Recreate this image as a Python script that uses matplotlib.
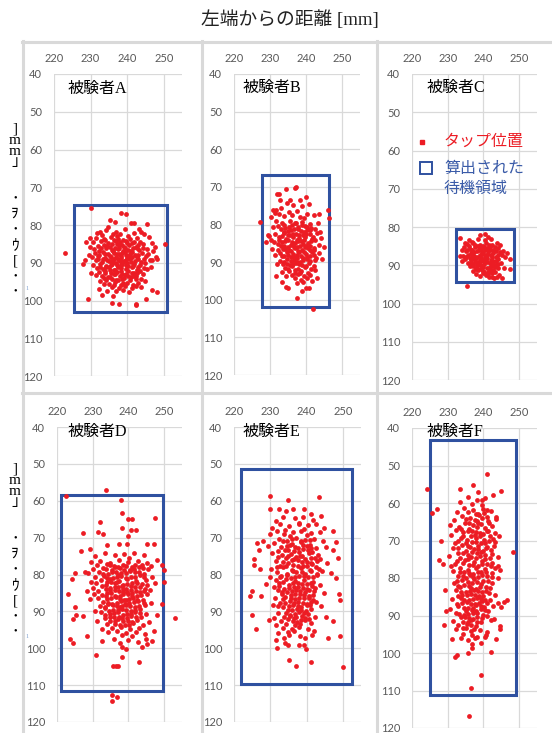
import matplotlib
matplotlib.use("Agg")
import matplotlib.pyplot as plt
from matplotlib.patches import Rectangle
from matplotlib.lines import Line2D

W, H = 552, 733

# ---------------------------------------------------------------- data
x_ticks = [220, 230, 240, 250]
y_ticks = [40, 50, 60, 70, 80, 90, 100, 110, 120]
x_range = (220, 255)
y_range = (40, 120)

subjects = ["被験者A", "被験者B", "被験者C", "被験者D", "被験者E", "被験者F"]

# tap positions (x = distance from left edge, y = distance from top edge) [mm]
taps_A = [
    (222.9, 87.5), (230.0, 75.4), (239.6, 77.1), (238.4, 76.9), (250.3, 85.0), (248.2, 97.8),
    (229.4, 99.7), (235.8, 100.7), (237.8, 101.0), (242.3, 101.2), (242.4, 100.8), (245.1, 99.6),
    (245.4, 79.8), (233.1, 98.5), (236.2, 98.8), (228.4, 89.3), (228.0, 90.2), (228.7, 84.4),
    (229.8, 83.5), (231.8, 82.0), (232.5, 81.9), (247.5, 85.9), (247.8, 88.4), (248.2, 89.0),
    (246.4, 91.0), (246.9, 89.3), (243.3, 81.1), (243.8, 81.8), (241.1, 79.6), (242.0, 79.6),
    (235.3, 78.7), (236.7, 79.3), (234.9, 80.4),
    (234.2, 81.3), (236.9, 81.8), (239.5, 81.1), (241.8, 82.0), (238.1, 82.4), (233.0, 82.6), (244.6, 82.3),
    (231.5, 83.4), (235.6, 83.1), (237.4, 83.6), (240.3, 83.0), (242.7, 83.5), (238.9, 83.9), (245.9, 83.2), (233.8, 83.8),
    (230.6, 84.6), (232.9, 84.2), (234.7, 84.8), (236.3, 84.1), (238.0, 84.5), (239.7, 84.3), (241.2, 84.9), (243.5, 84.4),
    (246.8, 84.7), (237.2, 85.0),
    (231.9, 85.5), (233.6, 85.2), (235.4, 85.8), (237.9, 85.4), (239.1, 85.9), (240.6, 85.3), (242.3, 85.7), (244.4, 85.1),
    (229.8, 85.9), (236.6, 86.0),
    (230.9, 86.4), (232.4, 86.8), (234.1, 86.2), (235.9, 86.6), (237.5, 86.3), (238.8, 86.9), (240.2, 86.5), (241.7, 86.1),
    (243.2, 86.7), (245.3, 86.3), (247.1, 86.8),
    (231.2, 87.5), (233.3, 87.1), (234.8, 87.7), (236.4, 87.3), (237.9, 87.8), (239.4, 87.2), (240.8, 87.6), (242.1, 87.9),
    (244.0, 87.4), (229.5, 87.9), (238.6, 87.5),
    (232.0, 88.3), (233.9, 88.8), (235.3, 88.1), (236.9, 88.6), (238.3, 88.2), (239.9, 88.7), (241.4, 88.4), (242.9, 88.9),
    (245.1, 88.2), (230.4, 88.6), (237.4, 88.9), (240.6, 88.1),
    (231.4, 89.4), (233.0, 89.7), (234.6, 89.2), (236.1, 89.8), (237.7, 89.3), (239.2, 89.6), (240.7, 89.1), (242.2, 89.5),
    (243.8, 89.9), (246.2, 89.4), (235.5, 89.5), (238.5, 89.9),
    (230.7, 90.5), (232.6, 90.2), (234.2, 90.8), (235.8, 90.3), (237.3, 90.7), (238.7, 90.2), (240.3, 90.9), (241.8, 90.4),
    (243.4, 90.6), (244.9, 90.1), (239.6, 90.5),
    (231.8, 91.3), (233.5, 91.6), (235.1, 91.1), (236.7, 91.8), (238.2, 91.4), (239.8, 91.7), (241.3, 91.2), (242.8, 91.9),
    (244.5, 91.5), (237.5, 91.0),
    (232.3, 92.5), (234.0, 92.2), (235.7, 92.8), (237.1, 92.4), (238.6, 92.9), (240.1, 92.3), (241.9, 92.7), (243.6, 92.1),
    (230.2, 92.6), (236.4, 92.0),
    (233.2, 93.4), (234.9, 93.8), (236.5, 93.1), (238.0, 93.6), (239.5, 93.3), (241.0, 93.9), (242.5, 93.5), (244.2, 93.0),
    (231.6, 93.2),
    (234.1, 94.5), (235.9, 94.2), (237.6, 94.7), (239.1, 94.1), (240.7, 94.6), (242.4, 94.3), (245.0, 94.8), (232.7, 94.9),
    (235.0, 95.6), (236.8, 95.2), (238.4, 95.8), (240.0, 95.4), (241.6, 95.9), (243.1, 95.3), (233.7, 95.7),
    (235.8, 96.5), (237.7, 96.8), (239.3, 96.2), (241.2, 96.6), (243.9, 96.4), (232.3, 96.9),
    (234.6, 97.4), (237.0, 97.6), (238.9, 97.2), (240.5, 97.8), (246.7, 97.1),
    (234.0, 84.0), (235.9, 85.1), (237.0, 84.3), (238.7, 85.2), (240.0, 84.7), (241.9, 84.6), (243.0, 85.4),
    (232.9, 86.0), (234.6, 85.6), (236.1, 86.9), (237.8, 86.1), (239.5, 86.2), (241.0, 86.9), (242.6, 86.2), (244.3, 86.0),
    (232.3, 87.9), (234.0, 87.6), (235.6, 88.4), (237.1, 87.6), (238.2, 88.7), (239.8, 87.9), (241.3, 87.1), (243.0, 87.9),
    (245.6, 87.7),
    (231.9, 88.9), (233.4, 89.0), (235.0, 89.6), (236.5, 88.9), (238.0, 89.5), (239.6, 89.2), (241.1, 89.8), (242.6, 88.4),
    (244.6, 89.0),
    (232.5, 91.0), (234.2, 91.1), (235.6, 90.6), (237.0, 90.0), (238.4, 90.7), (240.0, 90.0), (241.6, 90.9), (243.0, 91.1),
    (245.4, 91.7),
    (233.9, 92.7), (235.4, 92.0), (236.8, 93.0), (238.3, 92.3), (239.7, 92.9), (241.2, 92.6), (242.8, 92.6),
    (233.7, 94.1), (235.4, 93.7), (236.9, 94.5), (238.5, 94.4), (240.2, 93.5), (241.8, 93.6), (243.7, 94.2),
    (236.3, 95.9), (239.0, 95.3), (242.3, 96.1), (237.2, 83.0), (240.9, 83.8), (236.2, 82.5),
]

taps_B = [
    (227.2, 79.4), (246.1, 76.1), (246.3, 78.4), (241.9, 102.5), (237.6, 99.5), (238.8, 97.8),
    (240.0, 96.9), (240.7, 96.9), (234.5, 96.5), (235.1, 96.8), (233.2, 95.4), (231.7, 93.7),
    (237.0, 70.4), (237.2, 70.0), (234.5, 70.6), (232.0, 71.9), (232.4, 71.8), (240.0, 72.6),
    (243.5, 77.2), (228.9, 84.7), (229.5, 82.8), (230.2, 84.1), (244.9, 86.1), (244.4, 89.2),
    (243.0, 94.3), (242.5, 89.4), (230.9, 76.1), (231.4, 77.0), (232.8, 73.5), (238.4, 73.5),
    (235.6, 73.5),
    (234.8, 74.3), (236.4, 74.9), (238.9, 75.2), (233.1, 75.6), (240.7, 74.6), (231.6, 76.2), (237.6, 76.5), (235.2, 76.8),
    (232.5, 77.3), (234.0, 77.8), (236.1, 77.5), (238.3, 77.9), (240.2, 77.2), (242.1, 77.6), (230.4, 78.1), (239.5, 78.4),
    (231.7, 79.2), (233.4, 79.6), (235.5, 79.1), (237.3, 79.7), (239.0, 79.3), (241.0, 79.8), (243.2, 79.5),
    (232.2, 80.4), (234.3, 80.8), (236.0, 80.2), (237.8, 80.6), (239.6, 80.3), (241.5, 80.9), (230.9, 80.7),
    (233.0, 81.3), (234.9, 81.7), (236.7, 81.2), (238.5, 81.8), (240.3, 81.4), (242.4, 81.1), (244.0, 81.9),
    (231.4, 82.5), (233.8, 82.2), (235.6, 82.8), (237.2, 82.4), (239.1, 82.9), (241.0, 82.6), (243.1, 82.3),
    (232.6, 83.4), (234.5, 83.9), (236.3, 83.2), (238.0, 83.7), (239.8, 83.3), (241.7, 83.8), (244.3, 83.5), (229.6, 83.1),
    (233.3, 84.6), (235.1, 84.2), (236.9, 84.8), (238.7, 84.4), (240.5, 84.9), (242.6, 84.1), (231.0, 84.7), (237.6, 84.0),
    (232.1, 85.3), (234.0, 85.8), (235.8, 85.4), (237.4, 85.9), (239.3, 85.2), (241.2, 85.7), (243.7, 85.5), (236.5, 85.1),
    (233.5, 86.4), (235.3, 86.9), (237.0, 86.3), (238.8, 86.7), (240.6, 86.2), (242.2, 86.8), (230.6, 86.6), (239.7, 86.0),
    (232.8, 87.5), (234.6, 87.2), (236.4, 87.8), (238.1, 87.4), (239.9, 87.9), (241.6, 87.3), (243.5, 87.6),
    (233.9, 88.3), (235.7, 88.7), (237.5, 88.2), (239.2, 88.8), (241.0, 88.4), (242.9, 88.9), (231.5, 88.1),
    (232.9, 89.6), (234.8, 89.1), (236.6, 89.5), (238.4, 89.9), (240.2, 89.3), (237.5, 89.0),
    (233.6, 90.4), (235.5, 90.8), (237.2, 90.2), (239.0, 90.7), (240.8, 90.3), (242.3, 90.9), (231.9, 90.6),
    (234.3, 91.5), (236.1, 91.1), (237.9, 91.8), (239.6, 91.4), (241.4, 91.9), (235.0, 91.9),
    (235.2, 92.3), (237.0, 92.8), (238.7, 92.4), (240.5, 92.9), (233.4, 92.6), (242.6, 92.2),
    (236.0, 93.5), (237.8, 93.2), (239.5, 93.7), (241.1, 93.3), (234.4, 93.8),
    (236.9, 94.3), (238.6, 94.7), (240.2, 94.1), (239.1, 95.2), (237.4, 95.6), (241.6, 94.9),
    (233.9, 80.0), (235.4, 80.6), (237.0, 79.6), (238.8, 80.0), (240.4, 80.6), (234.0, 81.9), (235.9, 81.5), (237.7, 81.1),
    (239.4, 81.9), (241.2, 81.5),
    (233.2, 83.0), (234.9, 82.9), (236.4, 82.6), (238.1, 82.8), (240.0, 82.5), (242.0, 83.2),
    (232.4, 84.1), (234.2, 84.3), (236.0, 84.7), (237.8, 84.3), (239.5, 84.0), (241.3, 84.5),
    (233.1, 85.6), (234.9, 85.9), (236.6, 86.0), (238.3, 85.6), (240.0, 85.6), (242.1, 86.2),
    (232.3, 86.9), (234.2, 86.6), (235.9, 87.0), (237.7, 87.1), (239.4, 87.3), (241.0, 86.7),
    (233.4, 88.5), (235.0, 88.0), (236.8, 88.6), (238.5, 88.3), (240.3, 88.7), (242.1, 88.0),
    (233.8, 89.9), (235.7, 89.6), (237.4, 89.9), (239.2, 89.5), (241.1, 89.7),
    (234.6, 90.5), (236.4, 90.4), (238.1, 90.6), (239.9, 91.0), (236.9, 92.0), (238.4, 93.0),
]

taps_C = [
    (235.3, 95.3), (247.3, 91.0), (247.5, 88.3), (243.7, 93.0), (245.1, 93.3), (233.5, 82.9),
    (233.3, 87.7), (239.1, 82.0), (240.5, 81.7), (244.6, 84.6), (245.5, 86.3), (234.9, 84.2),
    (233.9, 86.1), (246.1, 87.9), (246.5, 86.9), (234.0, 88.9), (245.7, 90.7), (236.0, 83.4),
    (238.6, 83.2), (240.4, 83.5), (242.0, 83.1), (236.9, 83.8), (241.3, 82.6),
    (235.4, 84.4), (237.2, 84.1), (238.9, 84.6), (240.7, 84.2), (242.3, 84.7), (243.8, 84.3), (239.8, 84.9),
    (234.6, 85.3), (236.1, 85.7), (237.7, 85.2), (239.3, 85.8), (240.9, 85.4), (242.6, 85.9), (244.2, 85.5),
    (238.4, 85.0), (241.7, 85.1),
    (235.0, 86.4), (236.6, 86.8), (238.1, 86.2), (239.7, 86.6), (241.2, 86.3), (242.8, 86.9), (244.6, 86.5),
    (240.4, 86.0), (237.3, 86.5),
    (234.3, 87.5), (235.8, 87.2), (237.4, 87.7), (238.9, 87.3), (240.5, 87.8), (242.0, 87.4), (243.6, 87.9),
    (245.3, 87.3), (239.7, 87.0), (241.2, 87.1),
    (234.9, 88.3), (236.5, 88.7), (238.0, 88.2), (239.5, 88.6), (241.1, 88.1), (242.7, 88.8), (244.1, 88.4),
    (237.2, 88.0), (240.3, 88.9),
    (235.6, 89.4), (237.1, 89.8), (238.7, 89.2), (240.2, 89.7), (241.8, 89.3), (243.4, 89.9), (245.0, 89.5),
    (239.4, 89.0),
    (236.3, 90.3), (237.9, 90.7), (239.5, 90.2), (241.0, 90.6), (242.5, 90.1), (244.0, 90.8), (238.6, 90.9),
    (237.0, 91.4), (238.6, 91.2), (240.2, 91.7), (241.9, 91.3), (243.3, 91.8), (239.4, 91.0),
    (238.0, 92.3), (240.7, 92.5), (242.4, 92.1), (244.4, 92.6), (239.1, 92.8),
    (241.6, 93.1), (243.0, 93.4), (242.3, 93.0),
    (236.0, 85.0), (237.5, 84.6), (239.0, 85.5), (240.2, 85.1), (241.6, 84.6), (243.1, 85.2),
    (235.5, 86.0), (236.9, 86.1), (238.8, 86.0), (240.0, 86.9), (241.9, 86.0), (243.5, 86.4),
    (235.2, 87.9), (236.7, 87.4), (238.3, 87.8), (239.2, 88.2), (240.8, 87.2), (242.4, 87.9), (244.2, 87.2),
    (236.1, 88.2), (237.6, 88.9), (238.9, 88.7), (240.6, 88.4), (242.1, 88.7), (243.5, 88.8),
    (236.4, 89.3), (237.9, 89.2), (239.0, 89.9), (240.9, 89.2), (242.6, 89.5), (244.1, 89.6),
    (237.2, 90.2), (238.2, 90.0), (240.0, 90.5), (241.7, 90.4), (243.2, 90.5),
    (238.0, 91.0), (239.8, 91.4), (241.2, 91.8), (242.7, 91.2), (240.0, 92.0), (241.4, 92.4),
]

taps_D = [
    (233.7, 57.2), (238.0, 59.7), (238.3, 63.3), (239.9, 65.0), (241.1, 65.0), (247.4, 64.6),
    (232.0, 65.8), (238.3, 67.3), (242.0, 67.8), (240.8, 68.0), (239.9, 69.6), (227.3, 68.7),
    (231.4, 68.5), (232.8, 69.1), (226.8, 73.6), (229.3, 73.0), (234.0, 72.1), (237.3, 71.6),
    (239.7, 71.6), (245.3, 71.8), (247.2, 71.8), (224.2, 81.1), (225.1, 79.6), (227.7, 79.3),
    (223.2, 85.4), (225.1, 88.8), (224.4, 92.0), (225.4, 90.9), (227.3, 91.3), (223.7, 97.6),
    (224.4, 98.6), (228.4, 96.8), (230.8, 101.9), (232.5, 98.1), (235.6, 104.7), (236.4, 104.8),
    (237.0, 104.9), (238.3, 102.4), (242.9, 103.7), (235.4, 112.8), (236.8, 113.2), (235.5, 114.3),
    (253.0, 91.7), (250.0, 82.0), (249.5, 77.5), (250.0, 78.9), (249.3, 87.9), (248.1, 91.1),
    (247.2, 95.2), (246.7, 97.9), (245.3, 98.8), (248.1, 76.2), (244.8, 97.4), (222.6, 58.8),
    (239.2, 100.1), (238.3, 99.7), (243.7, 99.7),
    (233.5, 74.2), (236.2, 74.8), (238.8, 74.5), (241.5, 74.1), (244.3, 74.7), (230.7, 75.1), (240.1, 75.6),
    (232.1, 76.3), (234.7, 76.8), (237.4, 76.2), (239.9, 76.6), (242.6, 76.4), (245.2, 76.9), (229.4, 76.7),
    (231.3, 77.5), (233.9, 77.2), (236.0, 77.8), (238.5, 77.4), (241.0, 77.9), (243.7, 77.3), (246.4, 77.7),
    (230.2, 78.6), (232.8, 78.2), (235.3, 78.8), (237.7, 78.3), (240.4, 78.7), (242.9, 78.1), (245.6, 78.5),
    (231.7, 79.4), (234.2, 79.8), (236.6, 79.2), (239.2, 79.6), (241.8, 79.3), (244.4, 79.9), (228.6, 79.5),
    (230.5, 80.7), (233.1, 80.3), (235.6, 80.9), (238.0, 80.4), (240.6, 80.8), (243.2, 80.2), (246.7, 80.6),
    (237.1, 80.1),
    (232.3, 81.5), (234.9, 81.1), (237.3, 81.7), (239.7, 81.2), (242.2, 81.8), (244.9, 81.4), (229.5, 81.9),
    (231.0, 82.3), (233.6, 82.8), (236.2, 82.4), (238.6, 82.9), (241.1, 82.2), (243.8, 82.6), (247.5, 82.4),
    (235.0, 82.1),
    (230.1, 83.6), (232.6, 83.2), (234.8, 83.7), (237.0, 83.3), (239.4, 83.8), (241.9, 83.4), (244.6, 83.9),
    (238.3, 83.0),
    (231.6, 84.4), (233.9, 84.9), (236.1, 84.2), (238.5, 84.7), (240.8, 84.3), (243.3, 84.8), (246.0, 84.1),
    (228.4, 84.6),
    (232.7, 85.6), (235.2, 85.1), (237.6, 85.8), (239.9, 85.3), (242.4, 85.7), (245.2, 85.4), (230.3, 85.2),
    (241.1, 85.0),
    (231.4, 86.3), (234.0, 86.7), (236.4, 86.2), (238.8, 86.8), (241.3, 86.4), (244.0, 86.9), (229.2, 86.6),
    (233.0, 87.4), (235.5, 87.9), (237.8, 87.3), (240.2, 87.7), (242.8, 87.2), (246.3, 87.6), (239.2, 87.0),
    (231.9, 88.5), (234.4, 88.1), (236.8, 88.6), (239.3, 88.2), (241.7, 88.8), (244.5, 88.3), (237.7, 88.9),
    (233.3, 89.2), (235.8, 89.7), (238.1, 89.3), (240.6, 89.8), (243.1, 89.4), (230.6, 89.9),
    (234.7, 90.6), (237.1, 90.1), (239.5, 90.7), (241.9, 90.3), (245.0, 90.8), (232.2, 90.2), (238.4, 90.9),
    (235.9, 91.4), (238.3, 91.8), (240.8, 91.2), (243.6, 91.6), (233.5, 91.9),
    (234.8, 92.5), (237.2, 92.2), (239.8, 92.7), (242.3, 92.3), (245.7, 92.8), (231.1, 92.6),
    (236.3, 93.4), (238.9, 93.8), (241.4, 93.1), (244.2, 93.6), (233.9, 93.3),
    (235.5, 94.6), (237.9, 94.2), (240.4, 94.8), (243.0, 94.4), (232.6, 94.9),
    (236.8, 95.3), (239.4, 95.9), (242.1, 95.5), (234.2, 95.7), (238.2, 96.5), (241.0, 96.8), (244.6, 96.2),
    (236.0, 97.4), (239.9, 97.7), (237.5, 98.6), (242.8, 98.2),
    (234.9, 77.4), (237.0, 77.9), (239.4, 77.7), (241.9, 77.3), (233.6, 78.6), (236.3, 78.0), (238.8, 78.7),
    (241.6, 78.5), (244.0, 78.3),
    (232.9, 79.8), (235.4, 79.4), (237.9, 79.5), (240.5, 79.1), (243.0, 79.4), (233.9, 80.9), (236.7, 80.6),
    (239.3, 81.0), (241.9, 80.6), (244.4, 80.8),
    (234.0, 82.1), (236.9, 81.9), (239.6, 82.5), (242.3, 82.3), (245.2, 82.9), (233.8, 83.9), (236.2, 83.3),
    (238.6, 83.9), (240.6, 83.1), (243.3, 83.4),
    (234.8, 84.3), (237.4, 84.6), (239.7, 84.8), (242.0, 84.5), (244.3, 84.6), (233.6, 85.8), (236.3, 85.9),
    (238.6, 85.4), (240.9, 85.8), (243.4, 85.6),
    (235.2, 86.4), (237.6, 86.6), (240.1, 86.6), (242.5, 86.8), (234.4, 87.6), (236.7, 87.6), (239.0, 87.9),
    (241.6, 87.5), (244.4, 87.7),
    (233.5, 88.8), (235.6, 88.4), (238.1, 88.5), (240.5, 88.6), (243.0, 88.6), (234.5, 89.9), (237.1, 89.5),
    (239.4, 89.5), (241.9, 89.6),
    (233.5, 90.9), (236.0, 90.5), (240.7, 90.6), (243.3, 90.4), (234.8, 91.6), (237.3, 91.4), (239.6, 91.9),
    (242.2, 91.5),
    (236.1, 92.6), (238.6, 92.6), (241.0, 92.8), (237.5, 93.7), (240.1, 93.6),
]

taps_E = [
    (230.0, 58.8), (234.9, 59.7), (243.4, 59.0), (230.0, 62.2), (232.4, 62.3), (234.2, 62.8),
    (236.2, 62.3), (239.2, 62.2), (241.3, 63.5), (244.0, 64.2), (244.7, 67.3), (247.2, 68.2),
    (248.1, 71.2), (247.4, 73.3), (248.6, 75.4), (226.3, 71.4), (228.0, 70.9), (226.9, 73.3),
    (225.4, 75.9), (225.4, 77.5), (227.1, 78.4), (225.0, 84.6), (224.5, 85.8), (227.5, 85.9),
    (228.7, 82.7), (225.0, 91.1), (226.1, 94.7), (229.6, 92.4), (231.7, 97.7), (231.8, 99.9),
    (235.1, 103.1), (237.2, 104.8), (241.3, 103.7), (250.0, 105.1), (249.1, 96.7), (245.9, 97.1),
    (248.9, 85.4), (249.1, 86.8), (248.2, 80.9), (246.8, 79.6), (245.4, 91.5), (247.4, 92.7),
    (237.8, 99.2), (239.2, 99.2), (239.9, 100.3), (239.5, 97.1), (234.0, 98.6), (234.9, 99.2),
    (233.4, 64.3), (236.7, 64.8), (239.1, 64.5), (241.8, 65.2), (231.5, 65.6), (238.0, 65.9),
    (232.6, 66.4), (235.2, 66.9), (237.9, 66.2), (240.3, 66.7), (242.7, 66.3), (230.4, 67.5), (234.1, 67.8),
    (239.3, 67.6),
    (231.8, 68.3), (233.7, 68.9), (236.3, 68.5), (238.6, 68.1), (241.2, 68.8), (243.8, 68.4), (229.9, 69.1),
    (235.4, 69.6), (240.0, 69.4),
    (232.3, 70.4), (234.6, 70.9), (237.1, 70.2), (239.5, 70.7), (242.0, 70.3), (244.6, 70.8), (231.0, 71.4),
    (236.0, 71.8), (238.4, 71.3), (240.9, 71.9),
    (229.5, 72.2), (232.9, 72.6), (235.3, 72.1), (237.7, 72.8), (240.1, 72.4), (242.5, 72.9), (245.3, 72.5),
    (234.0, 73.4), (236.6, 73.7), (239.0, 73.2), (241.6, 73.8),
    (230.6, 74.3), (233.2, 74.8), (235.8, 74.4), (238.2, 74.9), (240.7, 74.2), (243.1, 74.6), (237.0, 75.3),
    (239.6, 75.8), (242.2, 75.5), (234.4, 75.6),
    (231.7, 76.4), (234.9, 76.8), (237.5, 76.2), (240.0, 76.7), (242.8, 76.3), (245.6, 76.9), (236.2, 77.4),
    (238.9, 77.8), (241.4, 77.2), (232.8, 77.6),
    (230.3, 78.5), (233.5, 78.1), (235.9, 78.7), (238.4, 78.3), (240.9, 78.8), (243.4, 78.4), (231.9, 79.3),
    (234.7, 79.8), (237.2, 79.4), (239.7, 79.9), (244.2, 79.1),
    (233.0, 80.4), (235.6, 80.9), (238.0, 80.3), (240.5, 80.7), (242.9, 80.2), (229.8, 80.8), (231.6, 81.5),
    (234.3, 81.2), (236.9, 81.7), (239.3, 81.4), (241.8, 81.9),
    (232.5, 82.3), (235.1, 82.8), (237.6, 82.2), (240.2, 82.6), (243.6, 82.9), (230.9, 83.4), (233.8, 83.9),
    (236.4, 83.3), (238.9, 83.7), (241.4, 83.2),
    (232.0, 84.2), (234.6, 84.7), (237.1, 84.3), (239.6, 84.8), (242.1, 84.4), (244.7, 84.9), (235.8, 85.6),
    (238.3, 85.2), (240.8, 85.7), (233.2, 85.4),
    (231.4, 86.5), (234.1, 86.1), (236.7, 86.7), (239.2, 86.3), (241.7, 86.8), (237.7, 87.4), (240.1, 87.9),
    (242.7, 87.5), (235.3, 87.2), (232.7, 87.8),
    (230.7, 88.3), (233.6, 88.8), (236.2, 88.4), (238.6, 88.9), (241.0, 88.2), (243.9, 88.6), (234.9, 89.5),
    (237.4, 89.3), (239.9, 89.8),
    (232.1, 90.4), (235.5, 90.9), (237.9, 90.2), (240.4, 90.7), (233.7, 91.4), (236.5, 91.8), (238.8, 91.2),
    (242.2, 91.6), (230.9, 91.9),
    (232.9, 92.6), (235.0, 92.2), (237.3, 92.9), (239.6, 92.4), (234.2, 93.5), (236.8, 93.8), (238.3, 93.3),
    (241.1, 93.1), (231.6, 93.7),
    (233.4, 94.4), (235.9, 94.9), (237.8, 94.2), (240.3, 94.7), (234.8, 95.6), (236.6, 95.2), (242.0, 95.3),
    (232.2, 95.8),
    (235.1, 96.4), (238.1, 96.8), (233.9, 97.2), (241.5, 96.3),
    (233.4, 70.8), (235.9, 70.3), (238.4, 70.9), (241.0, 70.6), (234.6, 72.4), (236.7, 72.5), (238.9, 72.1),
    (241.3, 72.7),
    (232.0, 73.6), (235.0, 73.4), (237.8, 73.9), (240.3, 73.4), (232.2, 75.3), (234.9, 74.9), (236.4, 75.7),
    (238.8, 75.1), (241.1, 75.5), (243.6, 75.9),
    (233.4, 76.5), (236.0, 76.2), (238.7, 76.6), (241.2, 76.9), (231.9, 77.9), (234.2, 77.6), (237.5, 77.7),
    (240.0, 77.8), (242.5, 77.9),
    (236.3, 79.0), (238.7, 79.2), (241.2, 79.1), (242.8, 79.8), (232.6, 80.6), (234.7, 80.2), (236.9, 80.6),
    (239.4, 80.5), (241.8, 80.8),
    (233.6, 82.0), (236.2, 82.3), (238.8, 82.7), (241.3, 82.3), (232.5, 83.2), (235.2, 83.6), (237.6, 83.5),
    (240.1, 83.9), (242.4, 83.6),
    (233.3, 84.8), (235.9, 84.6), (238.3, 84.6), (240.7, 84.3), (236.8, 85.4), (239.4, 85.6), (241.8, 85.6),
    (233.6, 86.6), (235.6, 86.4), (238.0, 86.4), (240.6, 86.4), (234.0, 87.6), (236.4, 87.7), (238.9, 87.8),
    (241.3, 87.5),
    (232.2, 88.6), (235.1, 88.5), (237.5, 88.6), (240.0, 88.3), (236.0, 89.5), (238.6, 89.6), (241.2, 89.4),
    (234.3, 90.5), (236.8, 90.6), (239.2, 90.5), (237.1, 91.5), (239.6, 91.7), (235.3, 91.3), (236.2, 92.5),
    (238.5, 92.4), (240.6, 92.0),
]

taps_F = [
    (224.3, 56.3), (225.7, 62.7), (226.9, 61.7), (241.0, 52.3), (237.0, 55.2), (233.3, 56.3),
    (245.0, 56.7), (248.3, 73.1), (228.1, 70.1), (227.6, 75.2), (228.8, 76.2), (229.3, 83.2),
    (229.5, 88.9), (229.0, 92.5), (231.1, 96.3), (231.9, 101.1), (232.7, 100.6), (235.8, 100.0),
    (236.7, 98.7), (236.9, 95.3), (238.3, 95.8), (239.3, 97.4), (239.4, 105.8), (236.6, 109.4),
    (236.0, 116.9), (240.8, 95.2), (242.1, 99.6), (243.6, 96.3), (244.7, 93.6), (244.7, 92.8),
    (245.7, 86.3), (246.6, 85.8), (244.1, 86.7), (245.0, 87.6), (244.2, 76.8), (244.7, 77.8),
    (244.4, 68.7), (243.6, 63.8), (241.0, 61.8), (242.6, 57.9), (239.6, 59.2), (238.6, 57.0),
    (235.8, 58.4), (238.1, 59.1), (240.4, 58.7), (233.4, 59.6), (236.9, 60.2), (239.6, 60.5),
    (234.5, 61.3), (237.2, 61.8), (239.8, 61.5), (242.0, 62.2), (232.5, 62.5), (238.5, 62.8),
    (233.9, 63.4), (236.3, 63.9), (238.7, 63.2), (240.9, 63.7), (231.8, 64.4), (237.5, 64.6), (239.5, 64.1),
    (243.4, 64.2),
    (234.8, 65.3), (237.0, 65.8), (239.2, 65.5), (241.6, 65.2), (230.7, 65.9), (233.1, 66.4), (235.9, 66.8),
    (238.3, 66.3), (240.5, 66.7),
    (232.3, 67.2), (234.4, 67.7), (236.8, 67.4), (239.0, 67.9), (241.3, 67.5), (243.2, 68.1), (231.0, 68.4),
    (237.7, 68.6), (240.0, 68.3),
    (233.6, 69.2), (235.5, 69.8), (238.0, 69.4), (240.2, 69.9), (242.6, 69.5), (236.7, 70.3), (239.3, 70.7),
    (241.5, 70.2), (232.1, 70.6),
    (234.1, 71.3), (236.2, 71.8), (238.6, 71.4), (240.8, 71.9), (243.0, 71.5), (237.4, 72.3), (239.8, 72.8),
    (242.0, 72.6), (231.4, 72.1), (235.0, 72.7),
    (233.0, 73.4), (235.7, 73.9), (238.1, 73.3), (240.4, 73.8), (236.6, 74.5), (239.1, 74.2), (241.7, 74.7),
    (244.1, 74.3), (230.4, 74.0),
    (232.7, 75.5), (234.9, 75.2), (237.3, 75.8), (239.6, 75.4), (242.3, 75.9), (236.0, 76.4), (238.5, 76.8),
    (240.9, 76.3), (230.9, 76.7),
    (233.5, 77.3), (235.8, 77.8), (238.0, 77.2), (240.3, 77.7), (243.1, 77.4), (234.6, 78.4), (237.0, 78.9),
    (239.4, 78.3), (242.4, 78.7), (231.6, 78.2),
    (232.8, 79.5), (236.1, 79.2), (238.6, 79.8), (241.0, 79.4), (244.0, 79.9), (233.9, 80.6), (237.4, 80.3),
    (239.9, 80.8), (235.2, 80.1),
    (231.8, 81.4), (234.5, 81.9), (236.8, 81.3), (239.2, 81.7), (242.5, 81.2), (233.4, 82.5), (237.9, 82.8),
    (240.6, 82.3), (235.9, 82.2),
    (232.3, 83.3), (235.0, 83.8), (237.3, 83.2), (239.7, 83.6), (241.6, 83.9), (234.0, 84.6), (236.4, 84.2),
    (238.8, 84.9), (243.3, 84.4),
    (231.2, 85.7), (233.7, 85.3), (236.0, 85.8), (238.3, 85.4), (240.5, 85.9), (235.3, 86.5), (237.6, 86.9),
    (239.5, 86.2), (232.5, 86.8),
    (233.0, 87.4), (235.8, 87.9), (238.0, 87.3), (240.1, 87.8), (242.8, 87.5), (236.9, 88.6), (239.2, 88.3),
    (241.4, 88.8), (230.6, 88.2),
    (232.2, 89.3), (234.6, 89.8), (237.1, 89.4), (239.8, 89.9), (238.2, 90.4), (236.0, 90.7), (240.9, 90.2),
    (243.0, 90.9), (233.6, 90.5),
    (231.5, 91.4), (234.3, 91.8), (236.6, 91.3), (239.3, 91.6), (242.2, 91.2), (233.0, 92.5), (235.4, 92.2),
    (237.8, 92.8),
    (232.4, 93.6), (235.0, 93.2), (236.4, 94.1), (238.9, 93.9), (241.1, 94.3), (234.2, 94.8),
    (233.8, 95.9), (235.6, 96.4), (237.5, 96.0), (240.3, 95.6), (236.8, 97.6),
    (235.6, 62.4), (237.9, 62.9), (240.1, 62.6), (235.1, 64.2), (238.1, 64.7), (241.4, 64.8), (236.0, 65.4),
    (238.6, 65.2), (242.3, 66.2),
    (233.6, 67.0), (235.6, 67.5), (238.0, 67.6), (240.9, 67.4), (234.2, 68.8), (236.6, 68.9), (239.1, 68.8),
    (241.9, 68.9),
    (233.0, 70.2), (235.2, 70.6), (237.8, 70.5), (240.5, 70.6), (243.2, 70.3), (233.0, 72.0), (235.7, 71.5),
    (238.4, 72.2), (241.1, 71.6),
    (234.3, 73.2), (236.9, 73.1), (239.4, 73.0), (242.4, 73.6), (233.4, 74.6), (235.6, 74.9), (237.9, 74.6),
    (240.3, 74.9),
    (231.9, 76.3), (234.2, 76.0), (237.1, 76.5), (239.6, 76.3), (242.0, 76.7), (233.4, 78.3), (235.9, 78.6),
    (238.4, 78.3), (240.8, 78.5),
    (234.3, 79.4), (237.0, 79.7), (239.6, 79.2), (242.4, 79.6), (232.6, 80.9), (235.6, 81.1), (238.2, 81.0),
    (241.2, 80.8),
    (233.0, 82.2), (236.6, 82.6), (239.1, 82.4), (241.8, 82.6), (233.6, 83.6), (236.1, 83.4), (238.5, 83.5),
    (240.8, 83.4),
    (232.9, 84.7), (235.3, 84.6), (237.7, 84.4), (240.0, 84.7), (234.6, 85.9), (237.0, 85.6), (239.3, 85.5),
    (241.8, 85.8),
    (234.0, 86.6), (236.5, 86.8), (238.7, 86.7), (241.1, 86.6), (234.5, 88.0), (237.0, 87.9), (239.2, 87.4),
    (235.0, 88.7), (238.0, 88.8), (240.5, 88.6),
    (233.2, 89.6), (235.8, 89.7), (238.3, 89.4), (234.9, 90.5), (237.2, 90.8), (239.6, 90.6), (235.7, 91.6),
    (238.2, 91.7), (236.6, 92.6), (234.4, 93.2), (237.4, 93.5),
]

# computed standby regions: (x_left, y_top, x_right, y_bottom) [mm]
region_A = (225.4, 74.7, 250.9, 103.1)
region_B = (227.7, 66.8, 246.5, 101.8)
region_C = (232.3, 80.5, 248.6, 94.3)
region_D = (221.2, 58.5, 249.7, 111.6)
region_E = (221.8, 51.4, 252.6, 109.6)
region_F = (225.0, 43.2, 249.1, 111.2)

legend_labels = ["タップ位置", "算出された\n待機領域"]
x_title = "左端からの距離 [mm]"
y_title_upper = "]\nm\nm\n｣"
y_title_lower = "･\nｦ\n･\nｳ\n[\n･\n･"

# ---------------------------------------------------------------- style
RED = "#ec1c24"
BLUE = "#2f51a0"
BLUE_TXT = "#3a5ba8"
GRID = "#d9d9d9"
FRAME = "#d9d9d9"
TICK_C = "#595959"
JP = ["Liberation Serif", "Noto Sans CJK JP"]
JP_SANS = ["Noto Sans CJK JP", "DejaVu Sans"]

plt.rcParams["font.family"] = JP


def fx(px):
    return px / W


def fy(py):
    return 1 - py / H


fig = plt.figure(figsize=(W / 100, H / 100), dpi=100)
fig.patch.set_facecolor("white")

# panel frames (pixel boxes: left, right, top, bottom)
boxes = [
    (54, 182, 74, 376), (234, 360, 74, 375), (412, 537, 74, 380),
    (57, 182, 427, 722), (234, 361, 427, 722), (412, 537, 428, 728),
]
title_pos = [(68, 89), (243, 88), (427, 88), (68, 432), (243, 432), (427, 432)]
taps = [taps_A, taps_B, taps_C, taps_D, taps_E, taps_F]
regions = [region_A, region_B, region_C, region_D, region_E, region_F]

for (l, r, t, b), name, pts, reg, (tx, ty) in zip(boxes, subjects, taps, regions, title_pos):
    ax = fig.add_axes([fx(l), fy(b), (r - l) / W, (b - t) / H])
    ax.set_xlim(*x_range)
    ax.set_ylim(y_range[1], y_range[0])
    ax.set_xticks(x_ticks)
    ax.set_yticks(y_ticks)
    for s in ax.spines.values():
        s.set_visible(False)
    ax.grid(True, color=GRID, lw=0.9, zorder=0)
    ax.set_axisbelow(True)
    ax.tick_params(axis="x", top=True, labeltop=True, bottom=False, labelbottom=False,
                   length=0, pad=7, labelsize=8, labelcolor=TICK_C)
    ax.tick_params(axis="y", length=0, pad=8.5, labelsize=8, labelcolor=TICK_C)
    for lab in ax.get_xticklabels() + ax.get_yticklabels():
        lab.set_fontfamily("Lato")
    x0, y0, x1, y1 = reg
    ax.add_patch(Rectangle((x0, y0), x1 - x0, y1 - y0, fill=False,
                           edgecolor=BLUE, lw=2.2, zorder=2))
    xs = [p[0] for p in pts]
    ys = [p[1] for p in pts]
    ax.scatter(xs, ys, s=12, color=RED, linewidths=0, zorder=3)
    fig.text(fx(tx), fy(ty), name, ha="left", va="center", fontsize=11.5, color="black")

# legend inside panel C
fig.add_artist(Line2D([fx(421.7)], [fy(141.7)], marker="s", markersize=3,
                      color=RED, linestyle="none"))
fig.text(fx(444), fy(141.7), legend_labels[0], ha="left", va="center",
         fontsize=11.5, color=RED, family=JP_SANS)
fig.add_artist(Line2D([fx(425.7)], [fy(168.3)], marker="s", markersize=8.5,
                      markerfacecolor="none", markeredgecolor=BLUE, markeredgewidth=1.4,
                      linestyle="none"))
fig.text(fx(444), fy(160), legend_labels[1], ha="left", va="top",
         fontsize=11.5, color=BLUE_TXT, family=JP_SANS, linespacing=1.25)

# cell frames
for (xa, ya, xb, yb) in [(22, 42, 552, 42), (22, 393, 552, 393),
                         (23, 41, 23, 733), (201.7, 41, 201.7, 733), (376.7, 41, 376.7, 733)]:
    fig.add_artist(Line2D([fx(xa), fx(xb)], [fy(ya), fy(yb)], color=FRAME, lw=2.2))

# axis titles
fig.text(fx(290), fy(20), x_title, ha="center", va="center", fontsize=13.5, color="#222222")
for base, mark_y in ((0, 289), (340, 636)):
    fig.text(fx(15), fy(146 + base), y_title_upper, ha="center", va="center",
             fontsize=11, color="black", linespacing=0.82)
    fig.text(fx(15), fy(245.3 + base), y_title_lower, ha="center", va="center",
             fontsize=11, color="black", linespacing=1.26)
    fig.text(fx(27.5), fy(mark_y), "1", ha="center", va="center",
             fontsize=4.5, color="#7f9fcf")

fig.savefig("out.png", dpi=100)
